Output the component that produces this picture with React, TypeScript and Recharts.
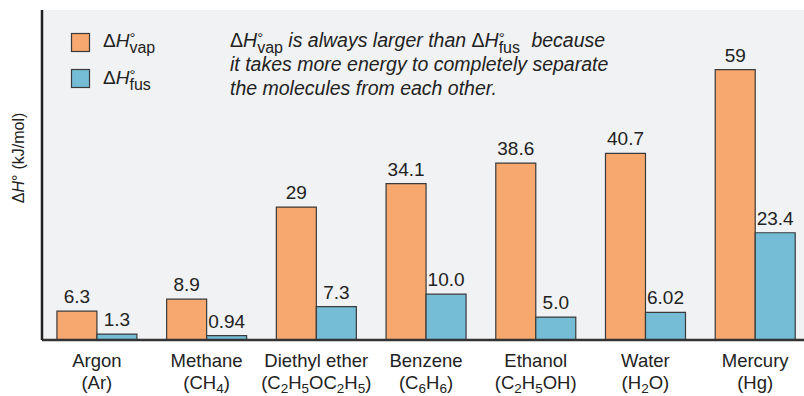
import React from "react";
import {
  BarChart,
  Bar,
  XAxis,
  YAxis,
  CartesianGrid,
  LabelList,
} from "recharts";

// substances along the x axis
const names = ["Argon", "Methane", "Diethyl ether", "Benzene", "Ethanol", "Water", "Mercury"];
const formulas = ["Ar", "CH4", "C2H5OC2H5", "C6H6", "C2H5OH", "H2O", "Hg"];

// enthalpies in kJ/mol
const vapValues = [6.3, 8.9, 29, 34.1, 38.6, 40.7, 59];
const fusValues = [1.3, 0.94, 7.3, 10.0, 5.0, 6.02, 23.4];

// printed labels (keep trailing zeros as shown)
const vapLabels = ["6.3", "8.9", "29", "34.1", "38.6", "40.7", "59"];
const fusLabels = ["1.3", "0.94", "7.3", "10.0", "5.0", "6.02", "23.4"];

const ORANGE = "#F7A86F";
const BLUE = "#75BCD6";
const EDGE = "#3a3a3a";
const INK = "#222";
const FONT = "'Liberation Sans', Arial, Helvetica, sans-serif";

const data = names.map((name, i) => ({
  name,
  vap: vapValues[i],
  fus: fusValues[i],
  vapLabel: vapLabels[i],
  fusLabel: fusLabels[i],
}));

// split a formula into plain / subscript runs, wrapped in parentheses
function formulaSpans(formula: string, subSize: number) {
  const parts = ["(", ...formula.split(/(\d+)/).filter(Boolean), ")"];
  let lowered = false;
  return parts.map((p, i) => {
    const isSub = /^\d+$/.test(p);
    let dy = 0;
    if (isSub && !lowered) dy = 4;
    if (!isSub && lowered) dy = -4;
    lowered = isSub;
    return (
      <tspan key={i} dy={dy} fontSize={isSub ? subSize : undefined}>
        {p}
      </tspan>
    );
  });
}

function CategoryTick(props: any) {
  const { x, y, index } = props;
  return (
    <g transform={`translate(${x},${y})`}>
      <text textAnchor="middle" y={27} fontSize={18.5} fill={INK}>
        {names[index]}
      </text>
      <text textAnchor="middle" y={49} fontSize={18.5} fill={INK}>
        {formulaSpans(formulas[index], 13.5)}
      </text>
    </g>
  );
}

// ΔH° with a stacked subscript (vap / fus); only the H is italic
function DeltaH({ sub }: { sub: string }) {
  return (
    <>
      <tspan fontStyle="normal">Δ</tspan>
      <tspan fontStyle="italic">H</tspan>
      <tspan fontStyle="normal" fontSize={15} dy={-4}>°</tspan>
      <tspan fontStyle="normal" fontSize={16} dx={-6} dy={10}>{sub}</tspan>
      <tspan dy={-6}> </tspan>
    </>
  );
}

function Overlay() {
  return (
    <svg
      width={804}
      height={396}
      style={{ position: "absolute", left: 0, top: 0, pointerEvents: "none", fontFamily: FONT }}
    >
      {/* legend */}
      <rect x={71.5} y={33.5} width={18} height={18} fill={ORANGE} stroke={EDGE} strokeWidth={1.2} />
      <rect x={71.5} y={69.5} width={18} height={18} fill={BLUE} stroke={EDGE} strokeWidth={1.2} />
      <text x={103} y={47} fontSize={19} fill={INK}>
        <DeltaH sub="vap" />
      </text>
      <text x={103} y={84} fontSize={19} fill={INK}>
        <DeltaH sub="fus" />
      </text>

      {/* note */}
      <g fontSize={19.5} fill={INK}>
        <text x={230} y={47}>
          <DeltaH sub="vap" />
          <tspan fontStyle="italic">is always larger than </tspan>
          <DeltaH sub="fus" />
          <tspan fontStyle="italic" dx={6}> because</tspan>
        </text>
        <text x={230} y={71} fontStyle="italic">it takes more energy to completely separate</text>
        <text x={230} y={95} fontStyle="italic">the molecules from each other.</text>
      </g>

      {/* y axis title */}
      <text transform="translate(24,158) rotate(-90)" textAnchor="middle" fontSize={16} fill={INK}>
        <tspan>Δ</tspan>
        <tspan fontStyle="italic">H</tspan>
        <tspan>°</tspan>
        <tspan dx={5}>(kJ/mol)</tspan>
      </text>
    </svg>
  );
}

export default function App() {
  return (
    <div
      style={{
        position: "absolute",
        left: 0,
        top: 0,
        width: 804,
        height: 396,
        overflow: "hidden",
        background: "#fff",
        fontFamily: FONT,
      }}
    >
      <BarChart
        width={810}
        height={396}
        data={data}
        margin={{ top: 10, right: 0, bottom: 0, left: 0 }}
        barCategoryGap="13.6%"
        barGap={0}
      >
        <CartesianGrid horizontal={false} vertical={false} fill="#F1F2F4" />
        <XAxis
          dataKey="name"
          height={56}
          interval={0}
          tickLine={false}
          tickSize={0}
          tickMargin={0}
          axisLine={{ stroke: "#333", strokeWidth: 2.5 }}
          tick={<CategoryTick />}
        />
        <YAxis
          domain={[0, 72]}
          ticks={[]}
          tick={false}
          tickLine={false}
          width={42}
          axisLine={{ stroke: "#222", strokeWidth: 2.5 }}
        />
        <Bar dataKey="vap" fill={ORANGE} stroke={EDGE} strokeWidth={1.2} isAnimationActive={false}>
          <LabelList dataKey="vapLabel" position="top" offset={8} fill={INK} fontSize={19} />
        </Bar>
        <Bar dataKey="fus" fill={BLUE} stroke={EDGE} strokeWidth={1.2} isAnimationActive={false}>
          <LabelList dataKey="fusLabel" position="top" offset={8} fill={INK} fontSize={19} />
        </Bar>
      </BarChart>
      <Overlay />
    </div>
  );
}
